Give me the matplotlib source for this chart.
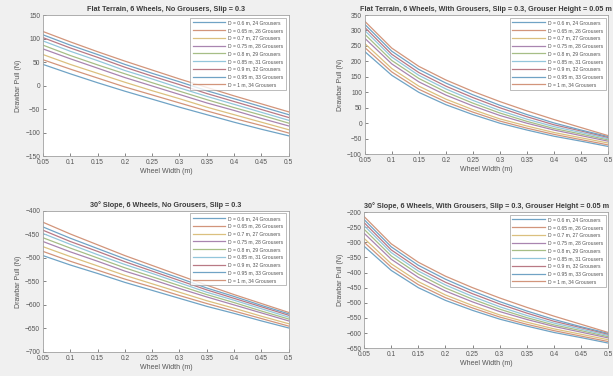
import matplotlib
matplotlib.use('Agg')
import matplotlib.pyplot as plt
import numpy as np

# wheel width (m)
width = [0.05, 0.1, 0.15, 0.2, 0.25, 0.3, 0.35, 0.4, 0.45, 0.5]

labels = ['D = 0.6 m, 24 Grousers', 'D = 0.65 m, 26 Grousers', 'D = 0.7 m, 27 Grousers',
          'D = 0.75 m, 28 Grousers', 'D = 0.8 m, 29 Grousers', 'D = 0.85 m, 31 Grousers',
          'D = 0.9 m, 32 Grousers', 'D = 0.95 m, 33 Grousers', 'D = 1 m, 34 Grousers']

# drawbar pull (N), one row per wheel diameter
flat_no_grousers = [
    [45, 25, 6, -12, -29, -46, -62, -78, -93, -107],
    [55, 35, 16, -3, -20, -37, -54, -70, -85, -101],
    [66, 45, 26, 7, -11, -28, -46, -62, -78, -94],
    [78, 57, 37, 17, -1, -19, -37, -53, -70, -86],
    [86, 64, 44, 25, 6, -12, -30, -47, -63, -80],
    [95, 73, 53, 32, 14, -5, -23, -40, -57, -74],
    [102, 80, 60, 39, 20, 2, -17, -34, -51, -68],
    [108, 86, 66, 45, 26, 8, -11, -28, -45, -62],
    [115, 93, 72, 52, 33, 14, -4, -22, -39, -56],
]

flat_grousers = [
    [232, 155, 100, 60, 28, 0, -22, -42, -58, -75],
    [245, 166, 110, 69, 36, 7, -16, -36, -53, -70],
    [258, 177, 120, 78, 44, 14, -9, -30, -47, -64],
    [275, 192, 134, 91, 56, 25, 0, -22, -40, -58],
    [288, 203, 145, 101, 65, 33, 6, -17, -35, -54],
    [300, 214, 155, 111, 74, 41, 13, -11, -30, -50],
    [310, 223, 164, 120, 83, 50, 21, -5, -25, -46],
    [320, 233, 174, 130, 92, 58, 28, 1, -22, -43],
    [330, 243, 184, 140, 103, 70, 40, 12, -14, -40],
]

slope_no_grousers = [
    [-495, -515, -533, -552, -569, -586, -603, -618, -634, -649],
    [-486, -507, -526, -545, -562, -580, -597, -613, -629, -645],
    [-476, -497, -517, -537, -555, -573, -591, -607, -624, -640],
    [-465, -487, -507, -528, -546, -565, -583, -600, -617, -634],
    [-457, -479, -500, -521, -540, -559, -578, -595, -613, -630],
    [-448, -471, -493, -514, -533, -553, -573, -590, -608, -626],
    [-441, -465, -486, -508, -528, -548, -568, -586, -604, -622],
    [-434, -458, -480, -502, -523, -543, -564, -582, -601, -619],
    [-424, -449, -472, -495, -516, -537, -558, -578, -597, -616],
]

slope_grousers = [
    [-313, -393, -450, -492, -525, -554, -577, -598, -615, -633],
    [-300, -382, -440, -483, -517, -547, -571, -592, -610, -628],
    [-287, -371, -430, -474, -509, -540, -564, -586, -604, -622],
    [-270, -356, -416, -461, -497, -529, -555, -578, -597, -616],
    [-257, -345, -405, -451, -488, -521, -549, -573, -592, -612],
    [-245, -334, -395, -441, -479, -513, -542, -567, -587, -608],
    [-235, -325, -386, -432, -470, -504, -534, -561, -582, -604],
    [-225, -315, -376, -422, -461, -496, -527, -555, -579, -601],
    [-215, -305, -366, -412, -450, -484, -515, -544, -571, -598],
]

# matlab default line colours, washed out like the screenshot
matlab = [(0, 0.447, 0.741), (0.85, 0.325, 0.098), (0.929, 0.694, 0.125),
          (0.494, 0.184, 0.556), (0.466, 0.674, 0.188), (0.301, 0.745, 0.933),
          (0.635, 0.078, 0.184), (0, 0.447, 0.741), (0.85, 0.325, 0.098)]
colors = [tuple(0.45 * c + 0.55 * 0.8 for c in col) for col in matlab]

TXT = '#555555'
plt.rcParams['font.family'] = 'Liberation Sans'

fig = plt.figure(figsize=(6.13, 3.76), dpi=100, facecolor='#f0f0f0')

panels = [
    ([0.070, 0.585, 0.401, 0.375], flat_no_grousers, (-150, 150), 50,
     'Flat Terrain, 6 Wheels, No Grousers, Slip = 0.3'),
    ([0.595, 0.590, 0.397, 0.370], flat_grousers, (-100, 350), 50,
     'Flat Terrain, 6 Wheels, With Grousers, Slip = 0.3, Grouser Height = 0.05 m'),
    ([0.070, 0.064, 0.401, 0.375], slope_no_grousers, (-700, -400), 50,
     '30\u00b0 Slope, 6 Wheels, No Grousers, Slip = 0.3'),
    ([0.594, 0.074, 0.398, 0.362], slope_grousers, (-650, -200), 50,
     '30\u00b0 Slope, 6 Wheels, With Grousers, Slip = 0.3, Grouser Height = 0.05 m'),
]

for pos, data, ylim, step, title in panels:
    ax = fig.add_axes(pos)
    ax.set_facecolor('white')
    for row, col, lab in zip(data, colors, labels):
        ax.plot(width, row, color=col, linewidth=0.9, label=lab)
    ax.set_xlim(0.05, 0.5)
    ax.set_ylim(*ylim)
    ax.set_xticks(width)
    ax.set_xticklabels(['0.05', '0.1', '0.15', '0.2', '0.25', '0.3', '0.35', '0.4', '0.45', '0.5'])
    ax.set_yticks(np.arange(ylim[0], ylim[1] + 1, step))
    ax.tick_params(direction='in', length=2, width=0.5, labelsize=4.8, colors=TXT, pad=2)
    for sp in ax.spines.values():
        sp.set_color('#a0a0a0')
        sp.set_linewidth(0.6)
    ax.set_title(title, fontsize=5.2, fontweight='bold', color='#3c3c3c', pad=3)
    ax.set_xlabel('Wheel Width (m)', fontsize=5, color=TXT, labelpad=1.5)
    ax.set_ylabel('Drawbar Pull (N)', fontsize=5, color=TXT, labelpad=2)
    leg = ax.legend(loc='upper right', fontsize=3.6, frameon=True, fancybox=False,
                    handlelength=6.5, handletextpad=0.6, labelspacing=0.55,
                    borderpad=0.5, borderaxespad=0.5)
    leg.get_frame().set_edgecolor('#8a8a8a')
    leg.get_frame().set_linewidth(0.5)
    for t in leg.get_texts():
        t.set_color(TXT)

fig.savefig('out.png', dpi=100, facecolor=fig.get_facecolor())
